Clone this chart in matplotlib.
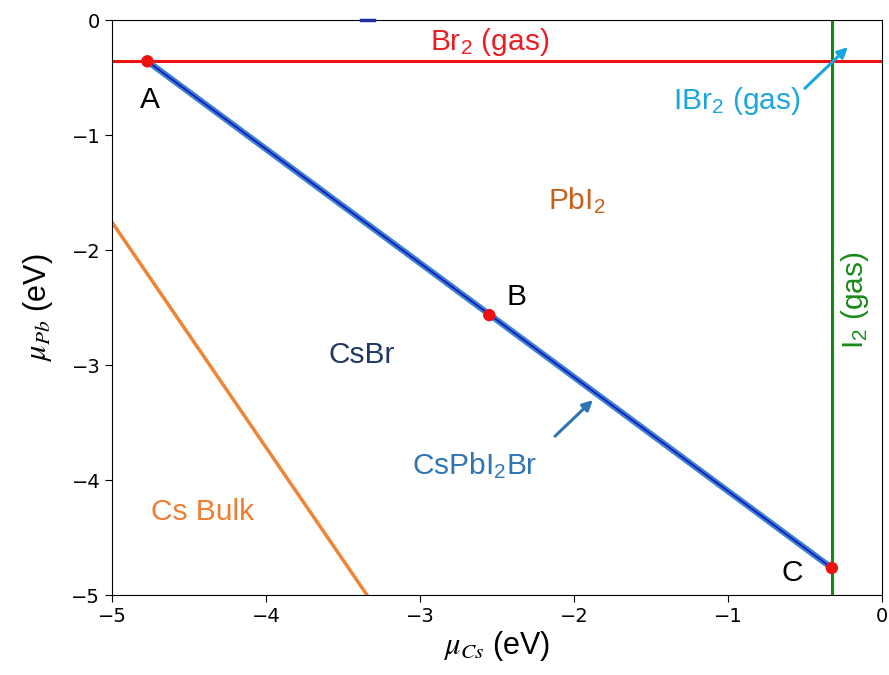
import matplotlib
matplotlib.use("Agg")
import matplotlib.pyplot as plt

plt.rcParams['mathtext.fontset'] = 'stix'

# Data
point_labels = ["A", "B", "C"]
mu_cs_points = [-4.77, -2.55, -0.325]
mu_pb_points = [-0.357, -2.565, -4.765]
br2_mu_pb = -0.357
i2_mu_cs = -0.325
cs_bulk_x = [-5.0, -3.344]
cs_bulk_y = [-1.757, -5.0]
top_seg_x = [-3.38, -3.30]
top_seg_y = [0.0, 0.0]
x_ticks = [-5, -4, -3, -2, -1, 0]
y_ticks = [-5, -4, -3, -2, -1, 0]

fig = plt.figure(figsize=(8.89, 6.75), dpi=100)
ax = fig.add_axes([0.126, 0.1185, 0.866, 0.8515])
ax.set_xlim(-5, 0)
ax.set_ylim(-5, 0)

ax.axhline(br2_mu_pb, color='#ee1111', lw=2.2, zorder=2)
ax.axvline(i2_mu_cs, color='#118811', lw=2.2, zorder=2)
ax.plot(cs_bulk_x, cs_bulk_y, color='#ed8436', lw=2.5, zorder=2)
ax.plot([mu_cs_points[0], mu_cs_points[-1]], [mu_pb_points[0], mu_pb_points[-1]],
        color='#3a86c0', lw=4.5, zorder=3, solid_capstyle='butt')
ax.plot([mu_cs_points[0], mu_cs_points[-1]], [mu_pb_points[0], mu_pb_points[-1]],
        color='#1414d8', lw=1.3, zorder=4, solid_capstyle='butt')
ax.plot(top_seg_x, top_seg_y, color='#2030a0', lw=2.5, zorder=6, clip_on=False)
ax.scatter(mu_cs_points, mu_pb_points, color='#ee1111', s=80, zorder=5, edgecolors='none')

lab_font = dict(family='Liberation Sans', fontsize=21.5)
ax.text(-2.545, -0.19, r'Br$\mathregular{_2}$ (gas)', color='#ee1c24', ha='center', va='center', **lab_font)
ax.text(-0.94, -0.70, r'IBr$\mathregular{_2}$ (gas)', color='#1aa7e0', ha='center', va='center', **lab_font)
ax.annotate('', xy=(-0.208, -0.217), xytext=(-0.513, -0.609),
            arrowprops=dict(arrowstyle='-|>', color='#1aa7e0', lw=2.2, mutation_scale=15))
ax.text(-1.98, -1.565, r'PbI$\mathregular{_2}$', color='#c5621a', ha='center', va='center', **lab_font)
ax.text(-3.377, -2.913, 'CsBr', color='#203864', ha='center', va='center', **lab_font)
ax.text(-2.643, -3.87, r'CsPbI$\mathregular{_2}$Br', color='#2e75b6', ha='center', va='center', **lab_font)
ax.annotate('', xy=(-1.864, -3.287), xytext=(-2.136, -3.635),
            arrowprops=dict(arrowstyle='-|>', color='#2e75b6', lw=2.2, mutation_scale=15))
ax.text(-4.41, -4.28, 'Cs Bulk', color='#ed7d31', ha='center', va='center', **lab_font)
ax.text(-0.175, -2.435, r'I$\mathregular{_2}$ (gas)', color='#1a8a1a', ha='center', va='center',
        rotation=90, **lab_font)

label_pos = [(-4.753, -0.696), (-2.37, -2.41), (-0.584, -4.81)]
for lab, (lx, ly) in zip(point_labels, label_pos):
    ax.text(lx, ly, lab, color='black', ha='center', va='center', **lab_font)

ax.set_xticks(x_ticks)
ax.set_yticks(y_ticks)
ax.tick_params(labelsize=14, length=5)
ax.set_xlabel(r'$\mu_{Cs}$ (eV)', fontsize=22, family='Liberation Sans', labelpad=2)
ax.set_ylabel(r'$\mu_{Pb}$ (eV)', fontsize=22, family='Liberation Sans', labelpad=12)

fig.savefig('out.png', dpi=100)
